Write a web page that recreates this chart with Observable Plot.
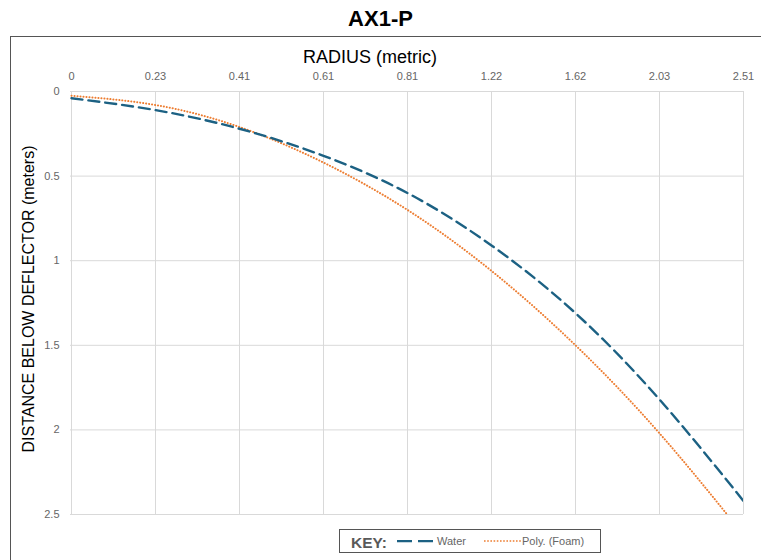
<!DOCTYPE html>
<html><head><meta charset="utf-8">
<script src="https://cdn.jsdelivr.net/npm/d3@7"></script>
<script src="https://cdn.jsdelivr.net/npm/@observablehq/plot@0.6"></script>
<style>
body{margin:0;background:#fff;font-family:"Liberation Sans",Arial,sans-serif;}
#wrap{position:relative;width:761px;height:560px;overflow:hidden;background:#fff;}
.abs{position:absolute;white-space:nowrap;line-height:1;}
#frame{position:absolute;left:10px;top:36px;width:800px;height:600px;border:1.5px solid #555;}
#title{left:0;top:8px;width:761px;text-align:center;font-weight:bold;font-size:22px;color:#000;}
#xlabel{left:370px;top:48px;transform:translateX(-50%);font-size:18px;color:#000;}
#ylabel{left:29px;top:299px;transform:translate(-50%,-50%) rotate(-90deg);font-size:16px;color:#000;}
#legend{position:absolute;left:339px;top:529px;width:260px;height:22px;border:1.5px solid #555;}
#plot{position:absolute;left:0;top:40px;}
</style></head>
<body><div id="wrap">
<div id="frame"></div>
<div id="title" class="abs">AX1-P</div>
<div id="xlabel" class="abs">RADIUS (metric)</div>
<div id="ylabel" class="abs">DISTANCE BELOW DEFLECTOR (meters)</div>
<div id="plot"></div>
<div id="legend"></div>
<div class="abs" style="left:351px;top:535px;font-weight:bold;font-size:15.5px;color:#595959;">KEY:</div>
<svg class="abs" style="left:396px;top:536px" width="40" height="10"><line x1="1" y1="5" x2="37" y2="5" stroke="#1c6183" stroke-width="2.25" stroke-dasharray="15,6"/></svg>
<div class="abs" style="left:437px;top:536px;font-size:11px;color:#666;">Water</div>
<svg class="abs" style="left:483px;top:536px" width="40" height="10"><line x1="1" y1="5" x2="38" y2="5" stroke="#ED7D31" stroke-width="1.6" stroke-dasharray="1.6,1.6"/></svg>
<div class="abs" style="left:522px;top:536px;font-size:11px;color:#666;">Poly. (Foam)</div>
</div>
<script>
const radiusLabels = ["0","0.23","0.41","0.61","0.81","1.22","1.62","2.03","2.51"];
const waterDepth = [0.04,0.11,0.22,0.38,0.60,0.91,1.31,1.82,2.42];
const foamDepth  = [0.025,0.08,0.21,0.42,0.70,1.06,1.50,2.02,2.62];
const depthTicks = [0,0.5,1,1.5,2,2.5];

const waterRows = radiusLabels.map((r,i)=>({r, d: waterDepth[i]}));
const foamRows = radiusLabels.map((r,i)=>({r, d: foamDepth[i]}));

const chart = Plot.plot({
  width: 761, height: 500,
  marginTop: 51, marginBottom: 26, marginLeft: 70, marginRight: 18,
  style: {fontFamily: "Liberation Sans, Arial, sans-serif", fontSize: "11px", color: "#666", background: "transparent"},
  x: {type: "point", domain: radiusLabels, padding: 0, axis: "top", label: null, tickSize: 0, tickPadding: 12},
  y: {domain: [0, 2.5], reverse: true, ticks: depthTicks, tickFormat: d => String(d), label: null, tickSize: 0, tickPadding: 11},
  marks: [
    Plot.gridX(radiusLabels, {stroke: "#d9d9d9", strokeOpacity: 1}),
    Plot.gridY(depthTicks, {stroke: "#d9d9d9", strokeOpacity: 1}),
    Plot.line(foamRows, {x: "r", y: "d", stroke: "#ED7D31", strokeWidth: 2, strokeLinecap: "round", strokeDasharray: "0.1,2.9", curve: "natural", clip: true}),
    Plot.line(waterRows, {x: "r", y: "d", stroke: "#1c6183", strokeWidth: 2.4, strokeDasharray: "11,6", curve: "natural", clip: true})
  ]
});
document.getElementById("plot").appendChild(chart);
</script>
</body></html>
